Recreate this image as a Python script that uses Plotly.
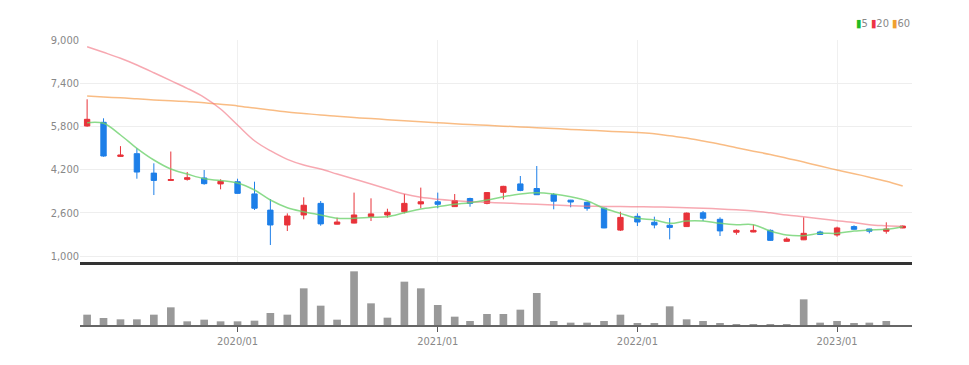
import plotly.graph_objects as go
import pandas as pd

months = pd.date_range("2019-04-01", "2023-05-01", freq="MS").strftime("%Y-%m-%d").tolist()

opens = [5815, 5952, 4690, 4790, 4070, 3800, 3840, 3890, 3670, 3750,
         3300, 2700, 2150, 2520, 2950, 2180, 2220, 2460, 2520, 2640,
         2930, 3010, 2830, 3130, 2950, 3360, 3670, 3500, 3270, 3070,
         2990, 2770, 1960, 2470, 2250, 2140, 2090, 2600, 2360, 1880,
         1890, 1950, 1545, 1600, 1890, 1780, 2090, 2000, 1920, 2040]
highs = [6804, 6100, 5070, 4989, 4433, 4870, 4111, 4185, 3840, 3863,
         3752, 3111, 2580, 3174, 3037, 2420, 3348, 3136, 2752, 3296,
         3533, 3348, 3296, 3160, 3370, 3600, 3963, 4333, 3333, 3080,
         3010, 2790, 2641, 2580, 2457, 2407, 2610, 2667, 2433, 1988,
         2160, 1988, 1692, 2433, 1938, 2087, 2137, 2010, 2248, 2130]
lows = [5790, 4678, 4680, 3863, 3259, 3800, 3793, 3641, 3470, 3310,
        2704, 1407, 1926, 2359, 2122, 2170, 2210, 2296, 2420, 2580,
        2767, 2767, 2820, 2826, 2915, 3100, 3400, 3260, 2730, 2804,
        2678, 2030, 1926, 2111, 2025, 1617, 2080, 2296, 1741, 1790,
        1880, 1556, 1530, 1590, 1790, 1716, 1980, 1840, 1828, 2030]
closes = [6063, 4704, 4740, 4110, 3800, 3830, 3900, 3680, 3765, 3320,
          2770, 2150, 2480, 2880, 2190, 2260, 2520, 2560, 2620, 2950,
          3010, 2915, 3050, 2950, 3350, 3580, 3430, 3270, 3030, 3000,
          2770, 2040, 2430, 2260, 2150, 2060, 2590, 2400, 1930, 1950,
          1950, 1580, 1630, 1840, 1800, 2040, 1990, 1920, 2000, 2110]

ma5 = [5938, 5914, 5481, 4989, 4556, 4222, 4037, 3863, 3796, 3704,
       3444, 3074, 2789, 2641, 2519, 2396, 2396, 2433, 2457, 2604,
       2741, 2826, 2915, 2974, 3074, 3196, 3296, 3344, 3296, 3196,
       3048, 2767, 2580, 2396, 2333, 2210, 2296, 2296, 2210, 2160,
       2160, 1926, 1778, 1754, 1840, 1840, 1926, 1963, 1988, 2087]
ma20 = [8752, 8544, 8322, 8074, 7789, 7493, 7211, 6878, 6444, 5852,
        5270, 4900, 4581, 4370, 4222, 4037, 3852, 3667, 3481, 3296,
        3173, 3100, 3048, 3011, 2989, 2963, 2940, 2915, 2890, 2863,
        2845, 2835, 2830, 2825, 2820, 2810, 2790, 2770, 2740, 2710,
        2670, 2600, 2520, 2450, 2380, 2310, 2240, 2160, 2120, 2090]
ma60 = [6926, 6890, 6860, 6820, 6780, 6750, 6720, 6680, 6620, 6560,
        6480, 6410, 6330, 6280, 6222, 6180, 6130, 6090, 6050, 6010,
        5970, 5938, 5900, 5870, 5840, 5810, 5780, 5752, 5720, 5690,
        5660, 5630, 5600, 5570, 5530, 5450, 5370, 5260, 5140, 5010,
        4880, 4760, 4620, 4480, 4330, 4185, 4050, 3920, 3770, 3593]
volume = [31, 21, 17, 17, 31, 53, 11, 16, 11, 11,
          13, 36, 31, 110, 58, 16, 161, 65, 22, 130,
          110, 60, 25, 12, 33, 33, 46, 96, 12, 7,
          7, 12, 31, 6, 6, 56, 17, 12, 6, 3,
          3, 3, 3, 77, 7, 12, 6, 7, 12, 0]

price_ticks = [1000, 2600, 4200, 5800, 7400, 9000]

RED = "#e8333a"
BLUE = "#1d7fe8"
FONT = "DejaVu Sans Condensed, Liberation Sans Narrow, Roboto, sans-serif"

fig = go.Figure()

fig.add_trace(go.Scatter(x=months, y=ma60, mode="lines", line_shape="spline",
                         line=dict(color="rgba(246,160,80,0.7)", width=1.5),
                         xaxis="x", yaxis="y", hoverinfo="skip"))
fig.add_trace(go.Scatter(x=months, y=ma20, mode="lines", line_shape="spline",
                         line=dict(color="rgba(242,110,125,0.6)", width=1.5),
                         xaxis="x", yaxis="y", hoverinfo="skip"))
fig.add_trace(go.Scatter(x=months, y=ma5, mode="lines", line_shape="spline",
                         line=dict(color="rgba(110,210,110,0.8)", width=1.5),
                         xaxis="x", yaxis="y", hoverinfo="skip"))

fig.add_trace(go.Candlestick(
    x=months, open=opens, high=highs, low=lows, close=closes,
    increasing=dict(line=dict(color=RED, width=1), fillcolor=RED),
    decreasing=dict(line=dict(color=BLUE, width=1), fillcolor=BLUE),
    whiskerwidth=0, xaxis="x", yaxis="y"))

fig.add_trace(go.Bar(x=months, y=volume, marker=dict(color="#999999", line=dict(width=0)),
                     width=14 * 86400000, xaxis="x2", yaxis="y2"))

xr = ["2019-03-19", "2023-05-18"]
fig.update_layout(
    width=969, height=365,
    margin=dict(l=72, r=65, t=32, b=48, autoexpand=False),
    paper_bgcolor="white", plot_bgcolor="white",
    showlegend=False,
    boxgap=0.5,
    font=dict(family=FONT, color="#888888", size=11),
    xaxis=dict(domain=[0, 1], anchor="y", range=xr, type="date",
               showticklabels=False, showgrid=True, gridcolor="#f0f0f0",
               tick0="2020-01-01", dtick="M12", rangeslider=dict(visible=False),
               showline=True, linecolor="#333333", linewidth=3, mirror=False,
               zeroline=False),
    yaxis=dict(domain=[0.221, 1], anchor="x", range=[778, 9000],
               tickvals=price_ticks, tickformat=",", gridcolor="#eeeeee",
               zeroline=False, showline=False, ticks="",
               tickfont=dict(family=FONT, size=11, color="#888888")),
    xaxis2=dict(domain=[0, 1], anchor="y2", matches="x", range=xr, type="date",
                showgrid=False, showline=True, linecolor="#666666", linewidth=2,
                ticks="outside", ticklen=5, tickcolor="#555555",
                tick0="2020-01-01", dtick="M12", tickformat="%Y/%m",
                tickfont=dict(family=FONT, size=11, color="#888888")),
    yaxis2=dict(domain=[0, 0.2], anchor="x2", range=[0, 171], visible=False),
)

fig.add_annotation(
    x=1.0, y=1.0, xref="paper", yref="paper", xanchor="right", yanchor="bottom",
    yshift=8, showarrow=False,
    text=("<span style='color:#22bb22'>▮</span>5 "
          "<span style='color:#ee3344'>▮</span>20 "
          "<span style='color:#f0a030'>▮</span>60"),
    font=dict(family=FONT, size=11, color="#888888"))

fig.write_html("out.html")
